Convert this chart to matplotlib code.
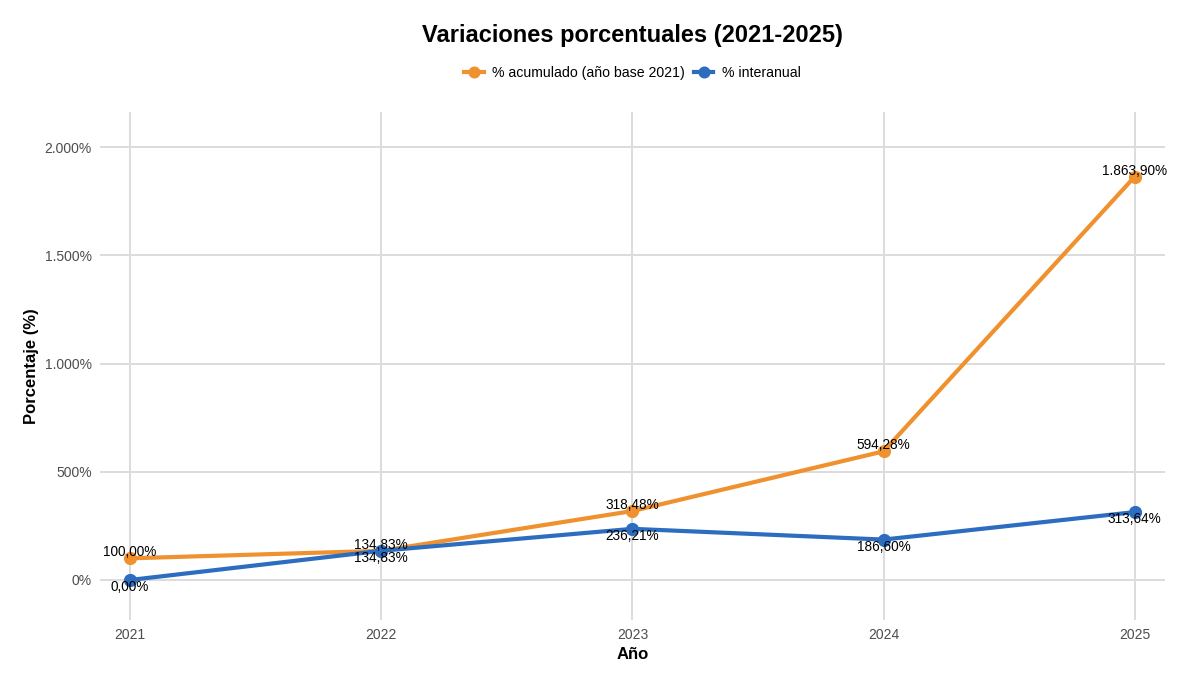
import matplotlib.pyplot as plt
from matplotlib.ticker import FuncFormatter

# datos
years = [2021, 2022, 2023, 2024, 2025]
acumulado = [100.00, 134.83, 318.48, 594.28, 1863.90]
interanual = [0.00, 134.83, 236.21, 186.60, 313.64]
yticks = [0, 500, 1000, 1500, 2000]

orange = '#F0912F'
blue = '#2C6DBF'

plt.rcParams['font.family'] = ['Liberation Sans', 'DejaVu Sans']


def es_fmt(v, dec=2):
    # formato espanol: punto para miles, coma para decimales
    s = f'{v:,.{dec}f}'
    return s.replace(',', 'X').replace('.', ',').replace('X', '.')


fig = plt.figure(figsize=(12, 6.86), dpi=100)
ax = fig.add_axes([0.0833, 0.0962, 0.8875, 0.7405])

ax.plot(years, acumulado, color=orange, lw=3, marker='o', ms=8.5,
        label='% acumulado (año base 2021)', zorder=3)
ax.plot(years, interanual, color=blue, lw=3, marker='o', ms=8.5,
        label='% interanual', zorder=3)

for x, y in zip(years, acumulado):
    ax.annotate(es_fmt(y) + '%', (x, y), xytext=(0, 6), textcoords='offset pixels',
                ha='center', va='center', fontsize=9.8, color='black', zorder=4)
for x, y in zip(years, interanual):
    ax.annotate(es_fmt(y) + '%', (x, y), xytext=(0, -7), textcoords='offset pixels',
                ha='center', va='center', fontsize=9.8, color='black', zorder=4)

ax.set_xlim(2020.88, 2025.12)
ax.set_ylim(-185, 2162)
ax.set_xticks(years)
ax.set_yticks(yticks)
ax.yaxis.set_major_formatter(FuncFormatter(lambda v, p: es_fmt(v, 0) + '%'))

for s in ax.spines.values():
    s.set_visible(False)
ax.grid(True, color='#dcdcdc', lw=1.4)
ax.set_axisbelow(True)
ax.tick_params(length=0, labelsize=10, labelcolor='#4d4d4d', pad=6)

ax.set_xlabel('Año', fontsize=12, fontweight='bold', labelpad=3)
ax.set_ylabel('Porcentaje (%)', fontsize=12, fontweight='bold', labelpad=4)

fig.suptitle('Variaciones porcentuales (2021-2025)', x=0.527, y=0.965,
             fontsize=17, fontweight='bold')
fig.legend(loc='center', bbox_to_anchor=(0.527, 0.893), ncol=2, frameon=False,
           fontsize=10.2, handlelength=1.4, handletextpad=0.6, columnspacing=0.6,
           markerscale=0.9)

fig.savefig('out.png', dpi=100)
